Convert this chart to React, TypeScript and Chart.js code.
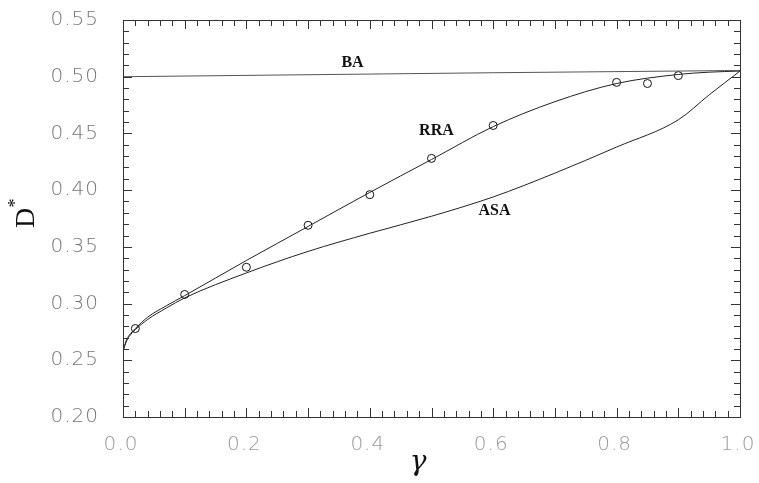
import React, { useEffect, useRef } from "react";
import { Chart, registerables } from "chart.js";

Chart.register(...registerables);

// Curve abscissae (gamma)
const gammaCurve = [0, 0.005, 0.01, 0.02, 0.04, 0.07, 0.1, 0.2, 0.3, 0.4, 0.5, 0.6, 0.7, 0.8, 0.9, 0.95, 1.0];
const rraCurve = [0.258, 0.267, 0.272, 0.278, 0.288, 0.298, 0.307, 0.338, 0.368, 0.398, 0.427, 0.456, 0.478, 0.494, 0.502, 0.504, 0.505];
const asaCurve = [0.258, 0.266, 0.271, 0.277, 0.286, 0.296, 0.305, 0.327, 0.346, 0.362, 0.377, 0.394, 0.415, 0.438, 0.462, 0.484, 0.505];

const gammaBA = [0, 0.6, 1.0];
const baCurve = [0.5, 0.5035, 0.5055];

// Simulation points (circles)
const gammaPoints = [0.02, 0.1, 0.2, 0.3, 0.4, 0.5, 0.6, 0.8, 0.85, 0.9];
const dPoints = [0.278, 0.308, 0.332, 0.369, 0.396, 0.428, 0.457, 0.495, 0.494, 0.501];

// Tick labels
const xTickValues = [0, 0.2, 0.4, 0.6, 0.8, 1.0];
const yTickValues = [0.2, 0.25, 0.3, 0.35, 0.4, 0.45, 0.5, 0.55];

// Curve labels
const curveLabels = ["BA", "RRA", "ASA"];
const curveLabelX = [0.372, 0.508, 0.602];
const curveLabelY = [0.512, 0.452, 0.382];

const toPts = (xs: number[], ys: number[]) => xs.map((x, i) => ({ x, y: ys[i] }));

const decorPlugin = {
  id: "decor",
  afterDraw(chart: any) {
    const { ctx, chartArea } = chart;
    const { left, right, top, bottom } = chartArea;
    const xs = chart.scales.x;
    const ys = chart.scales.y;
    ctx.save();
    ctx.strokeStyle = "#333";
    ctx.lineWidth = 1;
    ctx.strokeRect(Math.round(left) + 0.5, Math.round(top) + 0.5, Math.round(right - left), Math.round(bottom - top));
    ctx.beginPath();
    for (let i = 0; i <= 50; i++) {
      const px = Math.round(xs.getPixelForValue(i * 0.02)) + 0.5;
      const len = i % 5 === 0 ? 9 : 6;
      ctx.moveTo(px, bottom);
      ctx.lineTo(px, bottom - len);
      ctx.moveTo(px, top);
      ctx.lineTo(px, top + len);
    }
    for (let i = 0; i <= 35; i++) {
      const py = Math.round(ys.getPixelForValue(0.2 + i * 0.01)) + 0.5;
      const len = i % 5 === 0 ? 9 : 6;
      ctx.moveTo(left, py);
      ctx.lineTo(left + len, py);
      ctx.moveTo(right, py);
      ctx.lineTo(right - len, py);
    }
    ctx.stroke();

    // tick labels
    ctx.font = "200 20px 'DejaVu Sans', sans-serif";
    try {
      (ctx as any).letterSpacing = "1px";
    } catch (e) {}
    ctx.textBaseline = "middle";
    ctx.fillStyle = "#777";
    ctx.textAlign = "right";
    yTickValues.forEach((v) => {
      ctx.fillText(v.toFixed(2), left - 24, ys.getPixelForValue(v));
    });
    ctx.fillStyle = "#999";
    ctx.textAlign = "center";
    xTickValues.forEach((v) => {
      ctx.fillText(v.toFixed(1), xs.getPixelForValue(v) - 2, bottom + 28);
    });
    try {
      (ctx as any).letterSpacing = "0px";
    } catch (e) {}

    // curve labels
    ctx.fillStyle = "#111";
    ctx.font = "bold 16px 'Liberation Serif', serif";
    ctx.textAlign = "center";
    ctx.textBaseline = "middle";
    curveLabels.forEach((t, i) => {
      ctx.fillText(t, xs.getPixelForValue(curveLabelX[i]), ys.getPixelForValue(curveLabelY[i]));
    });

    // x title
    ctx.font = "italic 28px 'DejaVu Serif', serif";
    ctx.fillText("γ", 418, 463);

    // y title D*
    ctx.translate(27, 218);
    ctx.rotate(-Math.PI / 2);
    ctx.font = "28px 'Liberation Serif', serif";
    ctx.fillText("D", 0, 0);
    ctx.font = "18px 'Liberation Serif', serif";
    ctx.fillText("*", 15, -11);
    ctx.restore();
  },
};

export default function App() {
  const ref = useRef<HTMLCanvasElement>(null);
  useEffect(() => {
    if (!ref.current) return;
    const lineStyle = {
      borderColor: "#222",
      borderWidth: 1,
      pointRadius: 0,
      fill: false,
      cubicInterpolationMode: "monotone" as const,
    };
    const chart = new Chart(ref.current, {
      type: "scatter",
      data: {
        datasets: [
          { label: "BA", data: toPts(gammaBA, baCurve), showLine: true, ...lineStyle, borderColor: "#555" },
          { label: "RRA", data: toPts(gammaCurve, rraCurve), showLine: true, ...lineStyle },
          { label: "ASA", data: toPts(gammaCurve, asaCurve), showLine: true, ...lineStyle },
          {
            label: "sim",
            data: toPts(gammaPoints, dPoints),
            showLine: false,
            pointRadius: 4,
            pointBorderWidth: 1,
            pointBorderColor: "#111",
            pointBackgroundColor: "rgba(255,255,255,0)",
          },
        ],
      },
      options: {
        animation: false,
        responsive: false,
        layout: { padding: { top: 20, right: 19, left: 0, bottom: 0 } },
        plugins: { legend: { display: false }, tooltip: { enabled: false } },
        scales: {
          x: {
            type: "linear",
            min: 0,
            max: 1,
            grid: { display: false, drawTicks: false },
            border: { display: false },
            afterFit: (s: any) => {
              s.height = 66;
            },
            ticks: { display: false },
          },
          y: {
            type: "linear",
            min: 0.2,
            max: 0.55,
            grid: { display: false, drawTicks: false },
            border: { display: false },
            afterFit: (s: any) => {
              s.width = 123;
            },
            ticks: { display: false },
          },
        },
      },
      plugins: [decorPlugin],
    });
    return () => chart.destroy();
  }, []);
  return (
    <div style={{ position: "fixed", left: 0, top: 0, width: 759, height: 483, background: "#fff" }}>
      <canvas ref={ref} width={759} height={483} style={{ width: 759, height: 483 }} />
    </div>
  );
}
